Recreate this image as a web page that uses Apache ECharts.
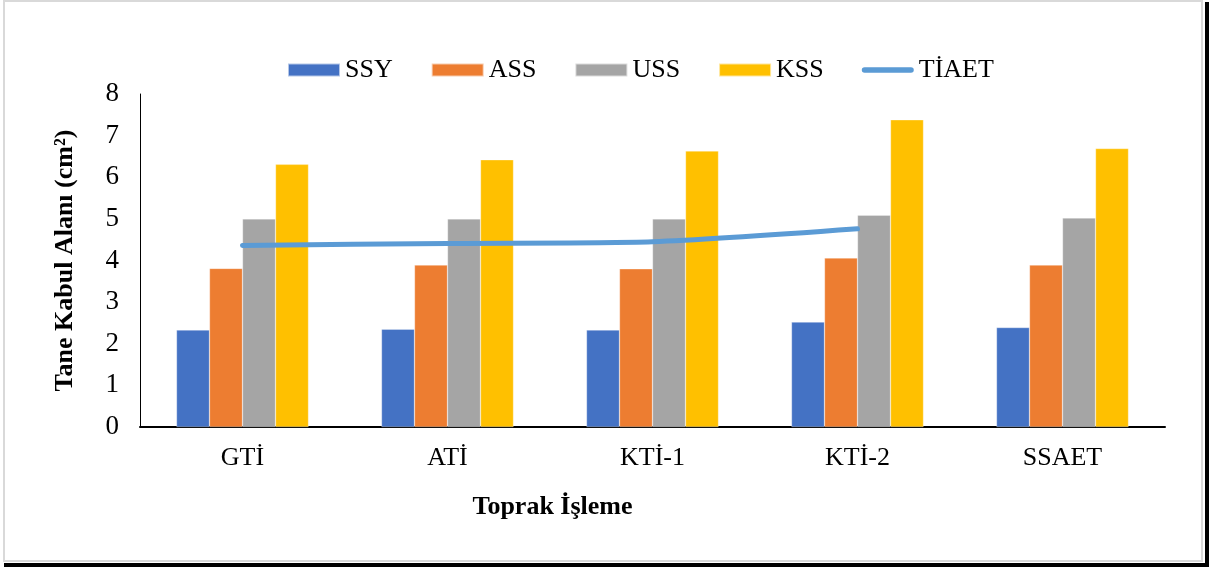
<!DOCTYPE html>
<html>
<head>
<meta charset="utf-8">
<script src="https://cdn.jsdelivr.net/npm/echarts@6/dist/echarts.min.js"></script>
<style>
  html, body { margin: 0; padding: 0; background: #ffffff; }
  #chart { width: 1209px; height: 567px; }
</style>
</head>
<body>
<div id="chart"></div>
<script>
// Tillage treatments on the category axis
const categories = ['GTİ', 'ATİ', 'KTİ-1', 'KTİ-2', 'SSAET'];

// Grain acceptance area (cm²) for each series
const ssy = [2.33, 2.35, 2.33, 2.52, 2.39];
const ass = [3.81, 3.89, 3.80, 4.06, 3.89];
const uss = [5.00, 5.00, 5.00, 5.09, 5.02];
const kss = [6.31, 6.42, 6.63, 7.38, 6.69];
const tiaet = [4.36, 4.41, 4.45, 4.76, null];

const yTicks = { min: 0, max: 8, interval: 1 };

const serif = '"Liberation Serif", "Times New Roman", serif';

const chart = echarts.init(document.getElementById('chart'), null, { renderer: 'canvas' });

function bar(name, data, color) {
  return {
    name: name,
    type: 'bar',
    data: data,
    barGap: '0%',
    barCategoryGap: '35.6%',
    itemStyle: { color: color, borderColor: 'rgba(255,255,255,0.6)', borderWidth: 0.5 },
    emphasis: { disabled: true }
  };
}

chart.setOption({
  animation: false,
  backgroundColor: '#ffffff',
  textStyle: { fontFamily: serif },
  graphic: [
    // outer frame
    { type: 'rect', shape: { x: 4, y: 1, width: 1198, height: 560 },
      style: { fill: 'none', stroke: '#d9d9d9', lineWidth: 2 }, silent: true, z: -1 },
    { type: 'rect', shape: { x: 1205, y: 2, width: 4, height: 565 },
      style: { fill: '#000000' }, silent: true },
    { type: 'rect', shape: { x: 4, y: 563, width: 1205, height: 4 },
      style: { fill: '#000000' }, silent: true }
  ],
  legend: {
    left: 287,
    top: 57,
    padding: 0,
    itemWidth: 52,
    itemHeight: 13,
    itemGap: 38,
    textStyle: { fontFamily: serif, fontSize: 26, color: '#000000', padding: [0, 0, 0, 0] },
    data: [
      { name: 'SSY', icon: 'rect' },
      { name: 'ASS', icon: 'rect' },
      { name: 'USS', icon: 'rect' },
      { name: 'KSS', icon: 'rect' },
      { name: 'TİAET', icon: 'path://M3,0 H53 A3,3 0 0 1 53,6 H3 A3,3 0 0 1 3,0 Z',
        itemStyle: { color: '#5B9BD5' } }
    ]
  },
  grid: { left: 140, right: 44, top: 94, bottom: 140, containLabel: false },
  xAxis: {
    type: 'category',
    data: categories,
    name: 'Toprak İşleme',
    nameLocation: 'middle',
    nameGap: 67,
    nameTextStyle: { fontFamily: serif, fontSize: 26, fontWeight: 'bold', color: '#000000',
                     padding: [0, 200, 0, 0] },
    axisLine: { lineStyle: { color: '#000000', width: 2 } },
    axisTick: { show: false },
    axisLabel: { fontFamily: serif, fontSize: 26, color: '#000000', margin: 18 },
    splitLine: { show: false }
  },
  yAxis: {
    type: 'value',
    min: yTicks.min,
    max: yTicks.max,
    interval: yTicks.interval,
    name: 'Tane Kabul Alanı (cm²)',
    nameLocation: 'middle',
    nameGap: 62,
    nameRotate: 90,
    nameTextStyle: { fontFamily: serif, fontSize: 26, fontWeight: 'bold', color: '#000000' },
    axisLine: { show: true, lineStyle: { color: '#000000', width: 1 } },
    axisTick: { show: false },
    axisLabel: { fontFamily: serif, fontSize: 27, color: '#000000', margin: 21 },
    splitLine: { show: false }
  },
  series: [
    bar('SSY', ssy, '#4472C4'),
    bar('ASS', ass, '#ED7D31'),
    bar('USS', uss, '#A5A5A5'),
    bar('KSS', kss, '#FFC000'),
    {
      name: 'TİAET',
      type: 'line',
      data: tiaet,
      smooth: 0.25,
      connectNulls: false,
      symbol: 'none',
      lineStyle: { color: '#5B9BD5', width: 5, cap: 'round', join: 'round' },
      itemStyle: { color: '#5B9BD5' },
      emphasis: { disabled: true },
      z: 5
    }
  ]
});
</script>
</body>
</html>
